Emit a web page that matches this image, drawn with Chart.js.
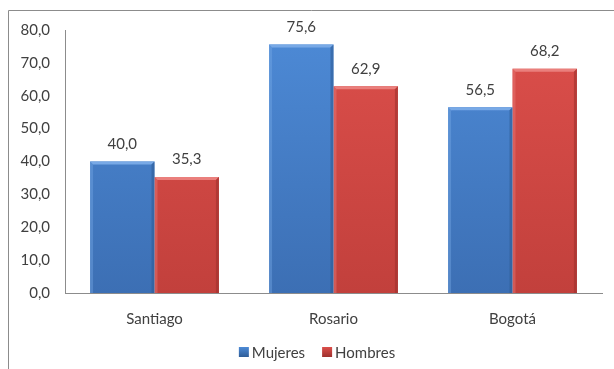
<!DOCTYPE html>
<html>
<head>
<meta charset="utf-8">
<script src="https://cdn.jsdelivr.net/npm/chart.js@4/dist/chart.umd.min.js"></script>
<style>
  html, body { margin: 0; padding: 0; background: #fff; }
  #wrap { width: 614px; height: 369px; position: relative; }
</style>
</head>
<body>
<div id="wrap"><canvas id="chart" width="614" height="369"></canvas></div>
<script>
const ciudades = ['Santiago', 'Rosario', 'Bogotá'];
const mujeres = [40.0, 75.6, 56.5];
const hombres = [35.3, 62.9, 68.2];
const yMin = 0, yMax = 80, yStep = 10;

// colour sets per series: base, light edge, dark edge
const tonos = [
    { top: '#4d8ad6', bottom: '#3c6fb4', light: '#78a9e6', dark: '#2f5d98' },
    { top: '#dc4f4b', bottom: '#c2403c', light: '#ea7f7c', dark: '#9e302d' }
];

const fuente = 'Lato, "Open Sans", sans-serif';

function fmt(v) {
    return v.toFixed(1).replace('.', ',');
}

// outer frame (only top and left edges show inside the window)
const marco = {
    id: 'marco',
    beforeDraw(chart) {
        const ctx = chart.ctx;
        ctx.save();
        ctx.strokeStyle = '#8c8c8c';
        ctx.lineWidth = 1;
        ctx.beginPath();
        ctx.moveTo(8.5, chart.height + 2);
        ctx.lineTo(8.5, 10.5);
        ctx.lineTo(chart.width + 2, 10.5);
        ctx.stroke();
        ctx.restore();
    }
};

// bevel edges and value labels on every bar
const bisel = {
    id: 'bisel',
    afterDatasetsDraw(chart) {
        const ctx = chart.ctx;
        chart.data.datasets.forEach((ds, di) => {
            const t = tonos[di];
            chart.getDatasetMeta(di).data.forEach((bar, i) => {
                const { x, y, base, width } = bar.getProps(['x', 'y', 'base', 'width'], true);
                const l = x - width / 2, r = x + width / 2, b = 3;
                ctx.save();
                // top edge
                ctx.fillStyle = t.light;
                ctx.beginPath();
                ctx.moveTo(l, y); ctx.lineTo(r, y); ctx.lineTo(r - b, y + b); ctx.lineTo(l + b, y + b);
                ctx.closePath(); ctx.fill();
                // left edge
                ctx.globalAlpha = 0.4;
                ctx.beginPath();
                ctx.moveTo(l, y); ctx.lineTo(l + b, y + b); ctx.lineTo(l + b, base); ctx.lineTo(l, base);
                ctx.closePath(); ctx.fill();
                // right edge
                ctx.globalAlpha = 0.6;
                ctx.fillStyle = t.dark;
                ctx.beginPath();
                ctx.moveTo(r, y); ctx.lineTo(r - b, y + b); ctx.lineTo(r - b, base); ctx.lineTo(r, base);
                ctx.closePath(); ctx.fill();
                ctx.restore();

                ctx.save();
                ctx.fillStyle = '#404040';
                ctx.font = '15px ' + fuente;
                ctx.textAlign = 'center';
                ctx.textBaseline = 'bottom';
                ctx.fillText(fmt(ds.data[i]), x, y - 10);
                ctx.restore();
            });
        });
    }
};

// legend row under the axis labels
const leyenda = {
    id: 'leyenda',
    afterDraw(chart) {
        const ctx = chart.ctx;
        const caja = 10, hueco = 3, sep = 17, cy = chart.height - 17;
        ctx.save();
        ctx.font = '15px ' + fuente;
        ctx.textBaseline = 'middle';
        const items = chart.data.datasets.map((ds, i) => ({ txt: ds.label, w: ctx.measureText(ds.label).width, t: tonos[i] }));
        const total = items.reduce((s, it) => s + caja + hueco + it.w, 0) + sep * (items.length - 1);
        let x = chart.width / 2 + 10 - total / 2;
        items.forEach(it => {
            const g = ctx.createLinearGradient(0, cy - caja / 2, 0, cy + caja / 2);
            g.addColorStop(0, it.t.top);
            g.addColorStop(1, it.t.dark);
            ctx.fillStyle = g;
            ctx.fillRect(x, cy - caja / 2, caja, caja);
            x += caja + hueco;
            ctx.fillStyle = '#404040';
            ctx.fillText(it.txt, x, cy + 1);
            x += it.w + sep;
        });
        ctx.restore();
    }
};

function degradado(di) {
    return function (context) {
        const chart = context.chart;
        const area = chart.chartArea;
        if (!area) return tonos[di].top;
        const g = chart.ctx.createLinearGradient(0, area.top, 0, area.bottom);
        g.addColorStop(0, tonos[di].top);
        g.addColorStop(1, tonos[di].bottom);
        return g;
    };
}

new Chart(document.getElementById('chart'), {
    type: 'bar',
    data: {
        labels: ciudades,
        datasets: [
            { label: 'Mujeres', data: mujeres, backgroundColor: degradado(0), borderWidth: 0 },
            { label: 'Hombres', data: hombres, backgroundColor: degradado(1), borderWidth: 0 }
        ]
    },
    options: {
        responsive: false,
        animation: false,
        devicePixelRatio: 1,
        layout: { padding: { top: 30, right: 12, bottom: 24, left: 10 } },
        datasets: { bar: { categoryPercentage: 0.72, barPercentage: 1 } },
        scales: {
            x: {
                grid: { display: false, drawTicks: false },
                border: { color: '#8c8c8c' },
                ticks: { color: '#404040', font: { family: fuente, size: 15 }, padding: 17 }
            },
            y: {
                min: yMin, max: yMax,
                grid: { display: false, drawTicks: false },
                border: { color: '#8c8c8c' },
                afterFit(scale) { scale.width = 55; },
                ticks: {
                    stepSize: yStep,
                    color: '#404040',
                    padding: 15,
                    font: { family: fuente, size: 15 },
                    callback: v => fmt(v)
                }
            }
        },
        plugins: {
            tooltip: { enabled: false },
            legend: { display: false }
        }
    },
    plugins: [marco, bisel, leyenda]
});
</script>
</body>
</html>
